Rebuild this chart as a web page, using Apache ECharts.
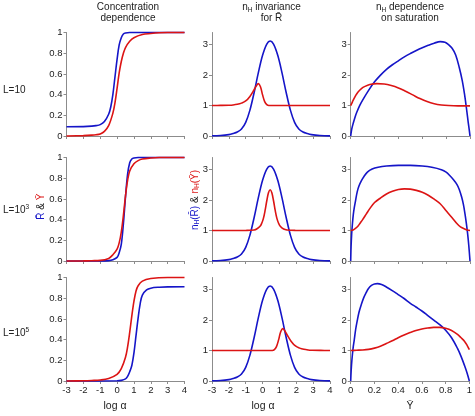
<!DOCTYPE html>
<html><head><meta charset="utf-8">
<script src="https://cdn.jsdelivr.net/npm/echarts@6/dist/echarts.min.js"></script>
<style>html,body{margin:0;padding:0;background:#fff}#c{width:475px;height:416px}</style>
</head><body><div id="c"></div>
<script>
// ---------- tick labels ----------
const logAlphaTicks = [-3, -2, -1, 0, 1, 2, 3, 4];
const fracTicks = [0, 0.2, 0.4, 0.6, 0.8, 1];
const nhTicks = [0, 1, 2, 3];
const satTicks = [0, 0.2, 0.4, 0.6, 0.8, 1];
const columnTitles = [['Concentration', 'dependence'], ['{n|n}{s|H}{n| invariance}', 'for R\u0304'], ['{n|n}{s|H}{n| dependence}', 'on saturation']];
const rowLabels = ['{n|L=10}', '{n|L=10}{p|3}', '{n|L=10}{p|5}'];
const xNames = ['log \u03b1', 'log \u03b1', 'Y\u0304'];

// ---------- column 1: R (blue) and Y (red) vs log alpha ----------
const concR_L10 = [[-3,0.09],[-2,0.091],[-1.5,0.095],[-1.25,0.1],[-1,0.11],[-0.75,0.14],[-0.5,0.21],[-0.375,0.28],[-0.25,0.4],[-0.125,0.57],[0,0.74],[0.125,0.88],[0.25,0.95],[0.375,0.985],[0.5,0.995],[0.75,1],[4,1]];
const concY_L10 = [[-3,0],[-2,0.004],[-1.5,0.008],[-1.25,0.012],[-1,0.02],[-0.75,0.045],[-0.5,0.1],[-0.25,0.22],[-0.125,0.32],[0,0.46],[0.125,0.61],[0.25,0.72],[0.375,0.8],[0.5,0.855],[0.75,0.915],[1,0.95],[1.5,0.98],[2,0.99],[2.5,0.997],[3,1],[4,1]];
const concR_L1e3 = [[-3,0],[-1,0.001],[-0.5,0.004],[-0.25,0.012],[0,0.035],[0.125,0.08],[0.25,0.16],[0.375,0.36],[0.5,0.62],[0.625,0.84],[0.75,0.95],[0.875,0.985],[1,0.995],[1.25,1],[4,1]];
const concY_L1e3 = [[-3,0],[-2,0.001],[-1.5,0.003],[-1,0.006],[-0.5,0.025],[-0.25,0.06],[0,0.115],[0.125,0.175],[0.25,0.28],[0.375,0.44],[0.5,0.63],[0.625,0.78],[0.75,0.87],[1,0.94],[1.25,0.97],[1.5,0.985],[2,0.995],[2.5,1],[4,1]];
const concR_L1e5 = [[-3,0],[0,0.002],[0.25,0.006],[0.5,0.02],[0.625,0.045],[0.75,0.09],[0.875,0.15],[1,0.27],[1.125,0.44],[1.25,0.61],[1.375,0.75],[1.5,0.83],[1.75,0.88],[2,0.897],[2.5,0.906],[3,0.909],[4,0.91]];
const concY_L1e5 = [[-3,0],[-2,0.002],[-1.5,0.005],[-1,0.01],[-0.5,0.025],[0,0.065],[0.25,0.12],[0.5,0.23],[0.625,0.33],[0.75,0.47],[0.875,0.63],[1,0.77],[1.125,0.87],[1.25,0.92],[1.5,0.965],[2,0.99],[3,1],[4,1]];

// ---------- column 2: nH vs log alpha ----------
const nhR_logA = [[-3,0.006],[-2.5,0.016],[-2,0.045],[-1.75,0.08],[-1.5,0.13],[-1.25,0.23],[-1,0.45],[-0.75,0.85],[-0.5,1.43],[-0.25,2.08],[0,2.65],[0.25,3.02],[0.45,3.12],[0.65,3.02],[0.9,2.65],[1.15,2.08],[1.4,1.43],[1.65,0.85],[1.9,0.45],[2.15,0.23],[2.4,0.13],[2.65,0.08],[2.9,0.045],[3.4,0.016],[4,0.005]];
const nhY_L10 = [[-3,1],[-2.5,1.005],[-2,1.012],[-1.75,1.02],[-1.5,1.04],[-1.25,1.08],[-1,1.15],[-0.75,1.3],[-0.5,1.52],[-0.375,1.64],[-0.25,1.72],[-0.125,1.62],[0,1.35],[0.125,1.13],[0.25,1.03],[0.375,1.0],[0.5,1.0],[1,1],[2,1],[4,1]];
const nhY_L1e3 = [[-3,1],[-1.5,1.001],[-1,1.004],[-0.5,1.02],[-0.35,1.05],[-0.15,1.14],[-0.05,1.24],[0.05,1.4],[0.15,1.66],[0.25,1.98],[0.35,2.24],[0.45,2.34],[0.55,2.24],[0.65,1.98],[0.75,1.66],[0.85,1.4],[0.95,1.24],[1.05,1.14],[1.25,1.05],[1.45,1.02],[1.95,1.004],[2.5,1.001],[4,1]];
const nhY_L1e5 = [[-3,1],[0,1],[0.575,1.0],[0.7,1.03],[0.825,1.13],[0.95,1.35],[1.075,1.62],[1.2,1.72],[1.325,1.64],[1.45,1.52],[1.7,1.3],[1.95,1.15],[2.2,1.08],[2.45,1.04],[2.7,1.02],[2.95,1.012],[3.45,1.005],[4,1.0]];

// ---------- column 3: nH vs Y ----------
const satR_L10 = [[0,0],[0.005,0.14],[0.01,0.25],[0.02,0.4],[0.035,0.6],[0.05,0.77],[0.075,1.0],[0.1,1.18],[0.15,1.5],[0.2,1.78],[0.25,2.0],[0.3,2.19],[0.35,2.34],[0.4,2.47],[0.45,2.6],[0.5,2.71],[0.55,2.81],[0.6,2.9],[0.65,2.98],[0.7,3.05],[0.75,3.1],[0.79,3.08],[0.82,3.0],[0.85,2.88],[0.88,2.66],[0.91,2.25],[0.935,1.82],[0.955,1.35],[0.97,0.92],[0.985,0.45],[0.995,0.16],[1,0]];
const satY_L10 = [[0,1.0],[0.01,1.08],[0.02,1.17],[0.04,1.32],[0.06,1.44],[0.09,1.56],[0.12,1.63],[0.16,1.69],[0.22,1.72],[0.28,1.71],[0.34,1.66],[0.4,1.58],[0.46,1.47],[0.52,1.35],[0.58,1.23],[0.64,1.13],[0.7,1.06],[0.76,1.02],[0.82,1.0],[0.9,0.99],[1,0.99]];
const satR_L1e3 = [[0,0],[0.003,0.45],[0.008,0.88],[0.015,1.25],[0.022,1.53],[0.03,1.75],[0.04,1.97],[0.055,2.28],[0.07,2.47],[0.09,2.64],[0.11,2.77],[0.14,2.92],[0.18,3.02],[0.23,3.08],[0.3,3.12],[0.4,3.14],[0.5,3.14],[0.6,3.12],[0.68,3.08],[0.76,3.0],[0.8,2.92],[0.83,2.81],[0.86,2.68],[0.89,2.52],[0.91,2.35],[0.93,2.1],[0.945,1.85],[0.958,1.55],[0.97,1.22],[0.98,0.9],[0.99,0.5],[1,0]];
const satY_L1e3 = [[0,1.0],[0.02,1.02],[0.04,1.07],[0.06,1.14],[0.08,1.25],[0.1,1.36],[0.13,1.54],[0.16,1.72],[0.2,1.92],[0.25,2.07],[0.3,2.2],[0.35,2.29],[0.4,2.35],[0.45,2.37],[0.5,2.36],[0.55,2.32],[0.6,2.26],[0.65,2.16],[0.7,2.03],[0.75,1.88],[0.8,1.65],[0.85,1.42],[0.89,1.23],[0.92,1.12],[0.95,1.06],[0.975,1.02],[1,1.0]];
const satR_L1e5 = [[0,0],[0.004,0.35],[0.01,0.68],[0.02,1.08],[0.03,1.35],[0.042,1.7],[0.055,1.98],[0.07,2.26],[0.09,2.52],[0.11,2.74],[0.13,2.9],[0.15,3.04],[0.175,3.14],[0.2,3.19],[0.225,3.2],[0.26,3.17],[0.3,3.09],[0.35,2.97],[0.4,2.84],[0.45,2.71],[0.5,2.56],[0.55,2.43],[0.6,2.3],[0.65,2.15],[0.7,2.0],[0.75,1.85],[0.8,1.67],[0.85,1.42],[0.9,1.07],[0.93,0.81],[0.96,0.5],[0.98,0.27],[1,0]];
const satY_L1e5 = [[0,1.0],[0.05,1.01],[0.1,1.02],[0.15,1.04],[0.2,1.08],[0.25,1.14],[0.3,1.23],[0.35,1.32],[0.4,1.42],[0.45,1.51],[0.5,1.59],[0.55,1.66],[0.6,1.71],[0.65,1.74],[0.7,1.76],[0.75,1.76],[0.8,1.73],[0.85,1.66],[0.9,1.53],[0.93,1.42],[0.96,1.3],[0.98,1.18],[1,1.03]];

// ---------- assembly ----------
const panels = [
  [[concR_L10, concY_L10], [nhR_logA, nhY_L10], [satR_L10, satY_L10]],
  [[concR_L1e3, concY_L1e3], [nhR_logA, nhY_L1e3], [satR_L1e3, satY_L1e3]],
  [[concR_L1e5, concY_L1e5], [nhR_logA, nhY_L1e5], [satR_L1e5, satY_L1e5]]
];
const BLUE = '#1515c8', RED = '#dc1414', AX = '#8c8c8c', TXT = '#222';
const FONT = '"Liberation Sans", Arial, "DejaVu Sans", sans-serif';
const colLeft = [66.5, 212, 350.7], colW = [118, 118, 119.3];
const rowTop = [32.5, 157.5, 277.5], rowH = 103.5;

const option = {animation: false, backgroundColor: '#fff', grid: [], xAxis: [], yAxis: [], series: [], graphic: []};
for (let r = 0; r < 3; r++) {
  for (let c = 0; c < 3; c++) {
    const idx = r * 3 + c;
    option.grid.push({left: colLeft[c], top: rowTop[r], width: colW[c], height: rowH});
    const xt = c < 2 ? logAlphaTicks : satTicks;
    option.xAxis.push({
      gridIndex: idx, type: 'value', min: xt[0], max: xt[xt.length - 1],
      axisLine: {onZero: false, lineStyle: {color: AX, width: 1}},
      axisTick: {show: true, length: 3, lineStyle: {color: AX}, customValues: xt},
      axisLabel: {show: r === 2, customValues: xt, fontSize: 9.5, fontFamily: FONT, color: TXT, margin: 4},
      splitLine: {show: false}
    });
    const yt = c === 0 ? fracTicks : nhTicks;
    option.yAxis.push({
      gridIndex: idx, type: 'value', min: 0, max: c === 0 ? 1 : 3.4,
      axisLine: {show: true, onZero: false, lineStyle: {color: AX, width: 1}},
      axisTick: {show: true, length: 3, lineStyle: {color: AX}, customValues: yt},
      axisLabel: {customValues: yt, fontSize: 9.5, fontFamily: FONT, color: TXT, margin: 4},
      splitLine: {show: false}
    });
    const [blue, red] = panels[r][c];
    [[blue, BLUE], [red, RED]].forEach(([d, col]) => {
      option.series.push({
        type: 'line', xAxisIndex: idx, yAxisIndex: idx, data: d,
        showSymbol: false, smooth: 0.35, clip: false,
        lineStyle: {color: col, width: 1.6}, itemStyle: {color: col}, silent: true
      });
    });
  }
}

const richBase = {
  n: {fontSize: 10, fontFamily: FONT, fill: TXT, lineHeight: 12},
  s: {fontSize: 6.5, fontFamily: FONT, fill: TXT, lineHeight: 6, verticalAlign: 'bottom'},
  p: {fontSize: 6.5, fontFamily: FONT, fill: TXT, lineHeight: 4, verticalAlign: 'top'}
};
const titleX = [128, 271.5, 410];
columnTitles.forEach((lines, c) => {
  lines.forEach((t, i) => {
    option.graphic.push({type: 'text', x: titleX[c], y: 7.5 + i * 11,
      style: {text: t.indexOf('{') >= 0 ? t : '{n|' + t + '}', rich: richBase, align: 'center', verticalAlign: 'middle', fontSize: 10, fontFamily: FONT, fill: TXT}});
  });
});
const rowY = [90.5, 210, 333];
rowLabels.forEach((t, r) => {
  option.graphic.push({type: 'text', x: 3, y: rowY[r],
    style: {text: t, rich: richBase, align: 'left', verticalAlign: 'middle', fontSize: 10, fontFamily: FONT, fill: TXT}});
});
const xNameX = [115, 263, 410];
xNames.forEach((t, c) => {
  option.graphic.push({type: 'text', x: xNameX[c], y: 406.5,
    style: {text: t, align: 'center', verticalAlign: 'middle', fontSize: 10.5, fontFamily: FONT, fill: TXT}});
});
// rotated y-axis names
const richNames = {
  b: {fontSize: 10, fontFamily: FONT, fill: BLUE, lineHeight: 12},
  bs: {fontSize: 6.5, fontFamily: FONT, fill: BLUE, lineHeight: 6, verticalAlign: 'bottom'},
  k: {fontSize: 10, fontFamily: FONT, fill: TXT, lineHeight: 12},
  r: {fontSize: 10, fontFamily: FONT, fill: RED, lineHeight: 12},
  rs: {fontSize: 6.5, fontFamily: FONT, fill: RED, lineHeight: 6, verticalAlign: 'bottom'}
};
option.graphic.push({type: 'text', x: 41.7, y: 206.7, rotation: Math.PI / 2,
  style: {text: '{b|R\u0304}{k| & }{r|Y\u0304}', rich: richNames, align: 'center', verticalAlign: 'middle'}});
option.graphic.push({type: 'text', x: 195, y: 200, rotation: Math.PI / 2,
  style: {text: '{b|n}{bs|H}{b|(R\u0304)}{k| & }{r|n}{rs|H}{r|(Y\u0304)}', rich: richNames, align: 'center', verticalAlign: 'middle'}});

const chart = echarts.init(document.getElementById('c'), null, {renderer: 'canvas'});
chart.setOption(option);
</script>
</body></html>
